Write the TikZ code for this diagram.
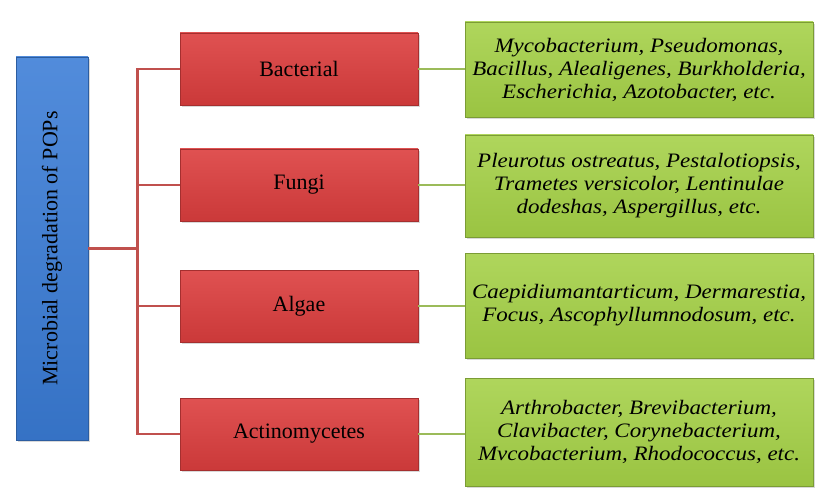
\documentclass[tikz,border=0pt]{standalone}
\usepackage{fontspec}
\setmainfont{Liberation Serif}
\newfontfamily\taxafont{Liberation Serif}[FakeStretch=1.12]
\usepackage{tikz}
\usepackage{xcolor}
\usetikzlibrary{positioning,calc,shadows}
\definecolor{popblue}{HTML}{3A7CD6}
\definecolor{popred}{HTML}{DC3E3E}
\definecolor{popgreen}{HTML}{A4D046}
\definecolor{redwire}{HTML}{C0504D}
\definecolor{greenwire}{HTML}{9BBB59}
\tikzset{
  rootbox/.style  = {rectangle, draw=popblue!75!black, line width=0.6pt,
                     top color=popblue!88!white, bottom color=popblue!92!black,
                     minimum width=72pt, minimum height=383pt, inner sep=0pt,
                     drop shadow={shadow xshift=1.5pt, shadow yshift=-2pt, opacity=0.3},
                     font=\fontsize{22}{26}\selectfont},
  groupbox/.style = {rectangle, draw=popred!75!black, line width=0.6pt,
                     top color=popred!90!white, bottom color=popred!92!black,
                     minimum width=238pt, minimum height=72pt, inner sep=0pt,
                     drop shadow={shadow xshift=1.5pt, shadow yshift=-2pt, opacity=0.3},
                     font=\fontsize{22}{26}\selectfont},
  taxabox/.style  = {rectangle, draw=popgreen!75!black, line width=0.6pt,
                     top color=popgreen!88!white, bottom color=popgreen!94!black,
                     minimum width=348pt, minimum height=100pt, inner sep=0pt, align=center,
                     drop shadow={shadow xshift=1.5pt, shadow yshift=-2pt, opacity=0.3},
                     font=\taxafont\itshape\fontsize{20.5}{23}\selectfont},
  redlink/.style   = {redwire, line width=2.8pt},
  greenlink/.style = {greenwire, line width=2.8pt},
}

\begin{document}
\begin{tikzpicture}[x=1pt,y=-1pt]
\useasboundingbox (0,0) rectangle (816,489);
% root and the four groups
\node[rootbox] (root) at (52,248.5) {\rotatebox{90}{Microbial degradation of POPs}};
\node[groupbox] (bac) at (299,69)  {Bacterial};
\node[groupbox] (fun) at (299,185) {Fungi};
\node[groupbox] (alg) at (299,306) {Algae};
\node[groupbox] (act) at (299,434) {Actinomycetes};
% genera
\node[taxabox, minimum height=95pt] (bacx) at (639,69.5) {Mycobacterium, Pseudomonas,\\ Bacillus, Alealigenes, Burkholderia,\\ Escherichia, Azotobacter, etc.};
\node[taxabox, minimum height=102pt] (funx) at (639,186) {Pleurotus ostreatus, Pestalotiopsis,\\ Trametes versicolor, Lentinulae\\ dodeshas, Aspergillus, etc.};
\node[taxabox, minimum height=105pt] (algx) at (639,305.5) {Caepidiumantarticum, Dermarestia,\\ Focus, Ascophyllumnodosum, etc.};
\node[taxabox, minimum height=108pt] (actx) at (639,432) {Arthrobacter, Brevibacterium,\\ Clavibacter, Corynebacterium,\\ Mvcobacterium, Rhodococcus, etc.};
% links
\coordinate (trunk) at ($(root.east)+(49,0)$);
\draw[redlink] (root.east) -- (trunk);
\foreach \g in {bac,fun,alg,act}
  \draw[redlink] (trunk) |- (\g.west);
\foreach \g in {bac,fun,alg,act}
  \draw[greenlink] (\g.east) -- (\g.east -| \g x.west);
\end{tikzpicture}
\end{document}
